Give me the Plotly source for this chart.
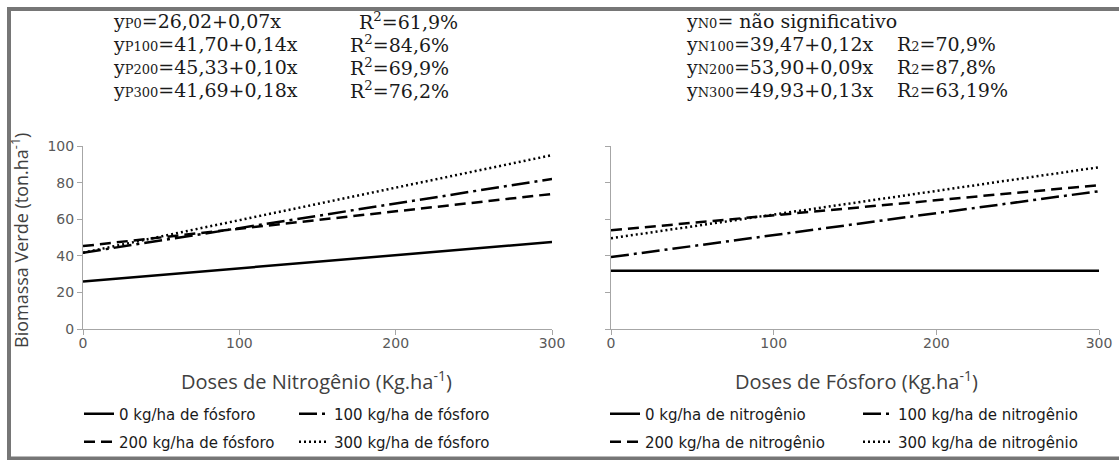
import plotly.graph_objects as go

# ---- data ----
doses = [0, 300]
left_names = ["0 kg/ha de fósforo", "100 kg/ha de fósforo", "200 kg/ha de fósforo", "300 kg/ha de fósforo"]
left_p0 = [26.0, 47.5]
left_p100 = [41.7, 82.0]
left_p200 = [45.3, 73.8]
left_p300 = [41.7, 95.0]

right_names = ["0 kg/ha de nitrogênio", "100 kg/ha de nitrogênio", "200 kg/ha de nitrogênio", "300 kg/ha de nitrogênio"]
right_n0 = [31.8, 31.8]
right_n100 = [39.3, 75.3]
right_n200 = [53.9, 78.6]
right_n300 = [49.6, 88.4]

x_ticks = [0, 100, 200, 300]
y_ticks = [0, 20, 40, 60, 80, 100]

SUB = '<span style="font-size:13px">%s</span>'
left_eq = ["y" + SUB % "P0" + "=26,02+0,07x", "y" + SUB % "P100" + "=41,70+0,14x",
           "y" + SUB % "P200" + "=45,33+0,10x", "y" + SUB % "P300" + "=41,69+0,18x"]
left_r2 = ["R<sup>2</sup>=61,9%", "R<sup>2</sup>=84,6%", "R<sup>2</sup>=69,9%", "R<sup>2</sup>=76,2%"]
right_eq = ["y" + SUB % "N0" + "= não significativo", "y" + SUB % "N100" + "=39,47+0,12x",
            "y" + SUB % "N200" + "=53,90+0,09x", "y" + SUB % "N300" + "=49,93+0,13x"]
right_r2 = ["", "R" + SUB % "2" + "=70,9%", "R" + SUB % "2" + "=87,8%", "R" + SUB % "2" + "=63,19%"]

dashes = ["solid", "18px,5px,3px,5px", "11px,6px", "2px,3px"]

W, H = 1119, 460
fig = go.Figure()

legend_ids = ["legend", "legend", "legend2", "legend2"]
legend_ids_r = ["legend3", "legend3", "legend4", "legend4"]
for name, ys, d, lg in zip(left_names, [left_p0, left_p100, left_p200, left_p300], dashes, legend_ids):
    fig.add_trace(go.Scatter(x=doses, y=ys, mode="lines", name=name,
                             line=dict(color="black", width=2.5, dash=d),
                             xaxis="x", yaxis="y", legend=lg))
for name, ys, d, lg in zip(right_names, [right_n0, right_n100, right_n200, right_n300], dashes, legend_ids_r):
    fig.add_trace(go.Scatter(x=doses, y=ys, mode="lines", name=name,
                             line=dict(color="black", width=2.5, dash=d),
                             xaxis="x2", yaxis="y2", legend=lg))

axis_common = dict(showgrid=False, zeroline=False, showline=True, linecolor="#a6a6a6",
                   linewidth=1, ticks="outside", tickcolor="#a6a6a6", ticklen=5,
                   tickfont=dict(family="DejaVu Sans", size=14, color="#595959"))

leg_font = dict(family="DejaVu Sans", size=15, color="#1a1a1a")


def leg(x, y, ew):
    return dict(orientation="h", x=x / W, y=1 - y / H, xanchor="left", yanchor="middle",
                entrywidth=ew, entrywidthmode="pixels", tracegroupgap=0,
                font=leg_font, bgcolor="rgba(0,0,0,0)", itemwidth=30,
                borderwidth=0, itemclick=False, itemdoubleclick=False)


py0, py1 = 1 - 329 / H, 1 - 146 / H
fig.update_layout(
    width=W, height=H, margin=dict(l=0, r=0, t=0, b=0, autoexpand=False),
    paper_bgcolor="white", plot_bgcolor="white",
    xaxis=dict(domain=[83 / W, 552 / W], range=[0, 300], tickvals=x_ticks, anchor="y",
               ticklabelstandoff=-4, **axis_common),
    yaxis=dict(domain=[py0, py1], range=[0, 100], tickvals=y_ticks, anchor="x",
               ticksuffix="\u2002\u2002", **axis_common),
    xaxis2=dict(domain=[611 / W, 1099 / W], range=[0, 300], tickvals=x_ticks, anchor="y2",
                ticklabelstandoff=-4, **axis_common),
    yaxis2=dict(domain=[py0, py1], range=[0, 100], tickvals=y_ticks, anchor="x2",
                showticklabels=False, **axis_common),
    legend=leg(79, 414, 170),
    legend2=leg(79, 442, 170),
    legend3=leg(605, 414, 208),
    legend4=leg(605, 442, 208),
    showlegend=True,
)

ann = []
eq_font = dict(family="DejaVu Serif", size=19, color="#1a1a1a")
line_y = [21, 44, 67, 90]
for i in range(4):
    ann.append(dict(text=left_eq[i], x=111 / W, y=1 - line_y[i] / H, xref="paper", yref="paper",
                    xanchor="left", yanchor="middle", showarrow=False, font=eq_font))
    ann.append(dict(text=left_r2[i], x=(357 if i == 0 else 348) / W, y=1 - line_y[i] / H,
                    xref="paper", yref="paper", xanchor="left", yanchor="middle",
                    showarrow=False, font=eq_font))
    ann.append(dict(text=right_eq[i], x=684 / W, y=1 - line_y[i] / H, xref="paper", yref="paper",
                    xanchor="left", yanchor="middle", showarrow=False, font=eq_font))
    if right_r2[i]:
        ann.append(dict(text=right_r2[i], x=895 / W, y=1 - line_y[i] / H,
                        xref="paper", yref="paper", xanchor="left", yanchor="middle",
                        showarrow=False, font=eq_font))

title_font = dict(family="Open Sans", size=20, color="#404040")
ann.append(dict(text="Doses de Nitrogênio (Kg.ha<sup>-1</sup>)", x=316 / W, y=1 - 380 / H,
                xref="paper", yref="paper", xanchor="center", yanchor="middle",
                showarrow=False, font=title_font))
ann.append(dict(text="Doses de Fósforo (Kg.ha<sup>-1</sup>)", x=856 / W, y=1 - 380 / H,
                xref="paper", yref="paper", xanchor="center", yanchor="middle",
                showarrow=False, font=title_font))
ann.append(dict(text="Biomassa Verde (ton.ha<sup>-1</sup>)", x=20 / W, y=1 - 241 / H,
                xref="paper", yref="paper", xanchor="center", yanchor="middle",
                textangle=-90, showarrow=False, font=dict(family="Open Sans", size=18, color="#404040")))
fig.update_layout(annotations=ann)

# outer grey frame
fig.add_shape(type="rect", xref="paper", yref="paper",
              x0=9 / W, x1=1.02, y0=1 - 458.5 / H, y1=1 - 9 / H,
              line=dict(color="#767676", width=4), fillcolor="rgba(0,0,0,0)", layer="above")

fig.write_html("out.html", config={"displayModeBar": False},
               post_script="document.body.style.margin='0';")
